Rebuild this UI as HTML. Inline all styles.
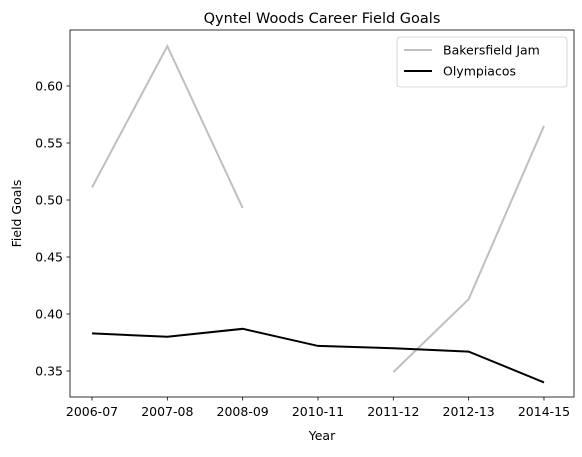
<!DOCTYPE html>
<html><head><meta charset="utf-8"><style>
body{margin:0;background:#fff;font-family:"DejaVu Sans","Liberation Sans",sans-serif;}
svg text{font-family:"DejaVu Sans","Liberation Sans",sans-serif;fill:#000;}
</style></head><body>
<svg id="chart" width="582" height="453" xmlns="http://www.w3.org/2000/svg"></svg>
<script>
const categories=["2006-07","2007-08","2008-09","2010-11","2011-12","2012-13","2014-15"];
const bakersfield=[0.511,0.635,0.493,null,0.349,0.413,0.565];
const olympiacos=[0.383,0.380,0.387,0.372,0.370,0.367,0.340];
const yTicks=[0.35,0.40,0.45,0.50,0.55,0.60];
const NS="http://www.w3.org/2000/svg";
const svg=document.getElementById('chart');
const L=70,R=574,T=30,B=397;
const x0=92,dx=75.33;
function xs(i){return x0+i*dx;}
function ys(v){return 371-(v-0.35)*1140;}
function mk(tag,attrs,parent){const e=document.createElementNS(NS,tag);for(const k in attrs)e.setAttribute(k,attrs[k]);(parent||svg).appendChild(e);return e;}
function series(vals,color,name){
  let segs=[],cur=[];
  vals.forEach((v,i)=>{if(v==null){if(cur.length)segs.push(cur);cur=[];}else cur.push([xs(i),ys(v)]);});
  if(cur.length)segs.push(cur);
  segs.forEach(s=>{
    const p=mk('polyline',{points:s.map(q=>q.join(',')).join(' '),fill:'none',stroke:color,'stroke-width':2});
    
    
  });
}
series(bakersfield,'#bfbfbf','bakersfield-jam-line');
series(olympiacos,'#000','olympiacos-line');
const fr=mk('rect',{x:L,y:T,width:R-L,height:B-T,fill:'none',stroke:'#000','stroke-width':0.8});


categories.forEach((c,i)=>{
  mk('line',{x1:xs(i),x2:xs(i),y1:B,y2:B+3.5,stroke:'#000','stroke-width':0.8});
  const t=mk('text',{x:xs(i),y:B+19,'text-anchor':'middle','font-size':12.5});t.textContent=c;
  
  
});
yTicks.forEach(v=>{
  mk('line',{x1:L-3.5,x2:L,y1:ys(v),y2:ys(v),stroke:'#000','stroke-width':0.8});
  const t=mk('text',{x:L-7,y:ys(v)+4.5,'text-anchor':'end','font-size':12.5});t.textContent=v.toFixed(2);
  
  
});
let t=mk('text',{x:(L+R)/2,y:23,'text-anchor':'middle','font-size':14.5});t.textContent='Qyntel Woods Career Field Goals';


t=mk('text',{x:(L+R)/2,y:440,'text-anchor':'middle','font-size':12.5});t.textContent='Year';


t=mk('text',{x:0,y:0,'text-anchor':'middle','font-size':12.5,transform:'translate(21,'+((T+B)/2)+') rotate(-90)'});t.textContent='Field Goals';


const lg=mk('g',{});


mk('rect',{x:397,y:37,width:170,height:50,rx:3,fill:'#fff',stroke:'#ccc','stroke-width':0.8},lg);
mk('line',{x1:404,x2:432,y1:50,y2:50,stroke:'#bfbfbf','stroke-width':2},lg);
t=mk('text',{x:443,y:54.5,'font-size':12.5},lg);t.textContent='Bakersfield Jam';


mk('line',{x1:404,x2:432,y1:71,y2:71,stroke:'#000','stroke-width':2},lg);
t=mk('text',{x:443,y:75.5,'font-size':12.5},lg);t.textContent='Olympiacos';


</script>
</body></html>
